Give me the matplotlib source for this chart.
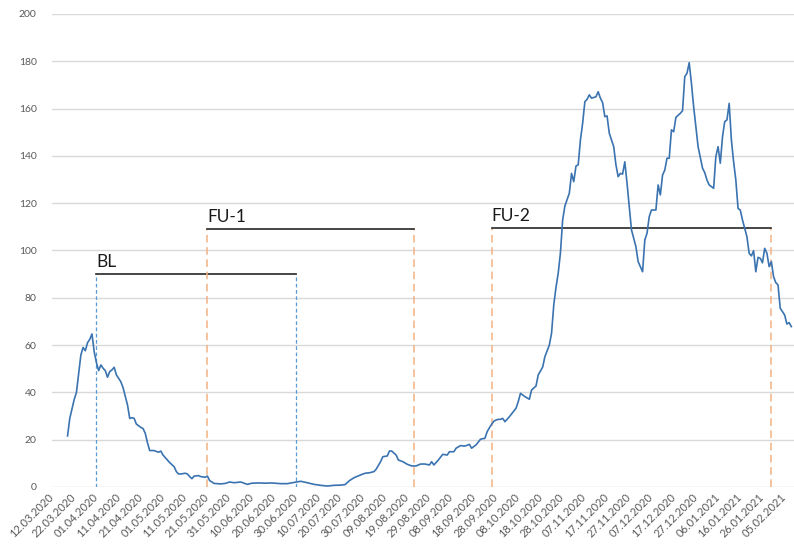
import matplotlib.pyplot as plt
import matplotlib.dates as mdates
import pandas as pd

plt.rcParams['font.family'] = ['Lato', 'DejaVu Sans']

# days counted from the first category (12.03.2020)
start_date = pd.Timestamp('2020-03-12')

days = [7, 8, 9, 10, 11, 12, 13, 14, 15, 16, 17, 18, 19, 20, 21, 22, 23, 24,
        25, 26, 27, 28, 29, 31, 32, 34, 35, 36, 37, 38, 40, 41, 42, 43, 44,
        46, 47, 48, 49, 50, 52, 53, 55, 56, 57, 58, 60, 61, 62, 63, 64, 66,
        67, 69, 70, 71, 73, 76, 78, 80, 82, 85, 88, 90, 93, 96, 99, 103, 106,
        110, 112, 115, 118, 121, 124, 127, 130, 132, 134, 136, 139, 141, 143,
        145, 146, 148, 149, 151, 152, 153, 155, 156, 158, 160, 162, 164, 166,
        168, 170, 171, 172, 174, 176, 178, 179, 181, 182, 184, 186, 188, 189,
        191, 193, 195, 196, 197, 198, 199, 200, 201, 202, 203, 204, 206, 209,
        210, 211, 213, 215, 216, 218, 219, 221, 222, 224, 225, 226, 227, 228,
        229, 230, 231, 233, 234, 235, 236, 237, 238, 239, 240, 241, 242, 243,
        245, 246, 247, 248, 249, 250, 251, 253, 254, 255, 256, 257, 258, 259,
        260, 261, 263, 264, 266, 267, 268, 269, 270, 272, 273, 274, 275, 276,
        277, 278, 279, 280, 281, 283, 284, 285, 286, 287, 288, 289, 290, 291,
        293, 294, 295, 296, 298, 299, 300, 301, 302, 303, 304, 305, 306, 307,
        308, 309, 310, 311, 313, 314, 315, 316, 317, 318, 319, 320, 321, 322,
        323, 324, 325, 326, 327, 328, 330, 331, 332, 333]

values = [21.6, 29, 33, 37, 40, 48, 55.8, 59, 57.6, 61, 62.4, 64.7, 57.2,
          52.6, 49.2, 51.6, 50.2, 49.2, 46.4, 48.8, 49.5, 50.6, 47.4, 44.5,
          42, 34.7, 29, 29.3, 29, 26.6, 25.2, 24.7, 22.7, 18.7, 15.4, 15.4,
          15, 14.7, 15.2, 13.5, 11.4, 10.3, 8.6, 6.5, 5.5, 5.5, 5.8, 5.5, 4.4,
          3.5, 4.6, 4.8, 4.4, 4.1, 4.6, 2.7, 1.5, 1.3, 1.5, 2.1, 1.8, 2.1,
          1.1, 1.6, 1.7, 1.6, 1.7, 1.4, 1.4, 2.1, 2.4, 1.8, 1.1, 0.7, 0.4,
          0.7, 0.8, 1.0, 2.7, 3.9, 5.1, 5.8, 6, 6.5, 7.5, 10.7, 12.8, 13.1,
          15.2, 15.2, 13.5, 11.4, 10.7, 9.6, 8.9, 8.9, 9.7, 9.7, 9.3, 10.7,
          9.3, 11.4, 13.8, 13.5, 14.9, 14.9, 16.4, 17.5, 17.3, 18, 16.4,
          17.8, 20.2, 20.6, 23.4, 25, 26.5, 27.8, 28.3, 28.6, 28.6, 29, 27.6,
          29.7, 33.3, 36.1, 39.6, 38.2, 37.1, 41, 42.7, 47.4, 50.7, 55.1, 60,
          65, 77, 84.4, 90.4, 99, 112.9, 118.8, 124.2, 132.6, 129.1, 135.7,
          136.2, 146.7, 153.8, 162.9, 163.9, 165.8, 164.4, 165, 167.1, 164.4,
          162.5, 156.6, 156.9, 149.6, 143.9, 136.2, 131.2, 132.6, 132.3,
          137.5, 128.4, 118.5, 108.7, 101.6, 95.3, 91, 104.4, 107.3, 114.3,
          117.1, 117.1, 127.7, 123.5, 131.9, 134, 139, 139, 151, 150.2, 156.3,
          158, 159.1, 173.5, 174.9, 179.4, 170.7, 160.8, 152.3, 143.9, 134.8,
          132.9, 129.8, 127.7, 126.3, 139.7, 143.9, 136.9, 148.1, 154.5,
          155.2, 162.2, 146.7, 137.5, 129.8, 117.8, 117.1, 112.9, 105.8, 98.8,
          97.7, 99.9, 91, 97.1, 96.7, 94.8, 100.9, 98.8, 93.2, 95.3, 88.9,
          86.4, 85.4, 75.6, 72.7, 68.9, 69.5, 67.8]

tick_days = list(range(0, 331, 10))

period_names = ['BL', 'FU-1', 'FU-2']
period_start = ['01.04.2020', '21.05.2020', '26.09.2020']
period_end = ['30.06.2020', '22.08.2020', '30.01.2021']
period_level = [90, 109, 109.5]

period_colors = {'BL': '#5b9bd5', 'FU-1': '#f4b183', 'FU-2': '#f4b183'}


def to_dates(offsets):
    return start_date + pd.to_timedelta(offsets, unit='D')


fig = plt.figure(figsize=(7.94, 5.46), dpi=100)
ax = fig.add_axes([0.0655, 0.1081, 0.9345, 0.8663])

ax.plot(to_dates(days), values, color='#3a73b0', linewidth=1.2, zorder=3)

for name, start, end, level in zip(period_names, period_start, period_end,
                                   period_level):
    x0 = pd.to_datetime(start, format='%d.%m.%Y')
    x1 = pd.to_datetime(end, format='%d.%m.%Y')
    color = period_colors[name]
    if name == 'BL':
        dash = (0, (3, 2))
        lw = 0.9
    else:
        dash = (0, (5, 3))
        lw = 1.1
    ax.plot([x0, x0], [0, level], color=color, linestyle=dash, linewidth=lw,
            zorder=2)
    ax.plot([x1, x1], [0, level], color=color, linestyle=dash, linewidth=lw,
            zorder=2)
    ax.plot([x0, x1], [level, level], color='#262626', linewidth=1.2,
            zorder=2)
    ax.text(x0, level + 3, name, fontsize=12.5, color='#1a1a1a',
            ha='left', va='baseline')

ax.set_ylim(0, 200)
ax.set_yticks(range(0, 201, 20))
ax.set_xlim(start_date, start_date + pd.Timedelta(days=334.2))
ax.set_xticks(to_dates(tick_days))
ax.xaxis.set_major_formatter(mdates.DateFormatter('%d.%m.%Y'))

ax.grid(axis='y', color='#d9d9d9', linewidth=1.0)
ax.set_axisbelow(True)
for spine in ax.spines.values():
    spine.set_visible(False)

ax.tick_params(axis='y', length=0, pad=11, labelsize=7.5,
               labelcolor='#595959')
ax.tick_params(axis='x', length=0, pad=6, labelsize=8,
               labelcolor='#595959')
for label in ax.get_xticklabels():
    label.set_rotation(45)
    label.set_ha('right')
    label.set_va('center')
    label.set_rotation_mode('anchor')

fig.savefig('out.png', dpi=100)
